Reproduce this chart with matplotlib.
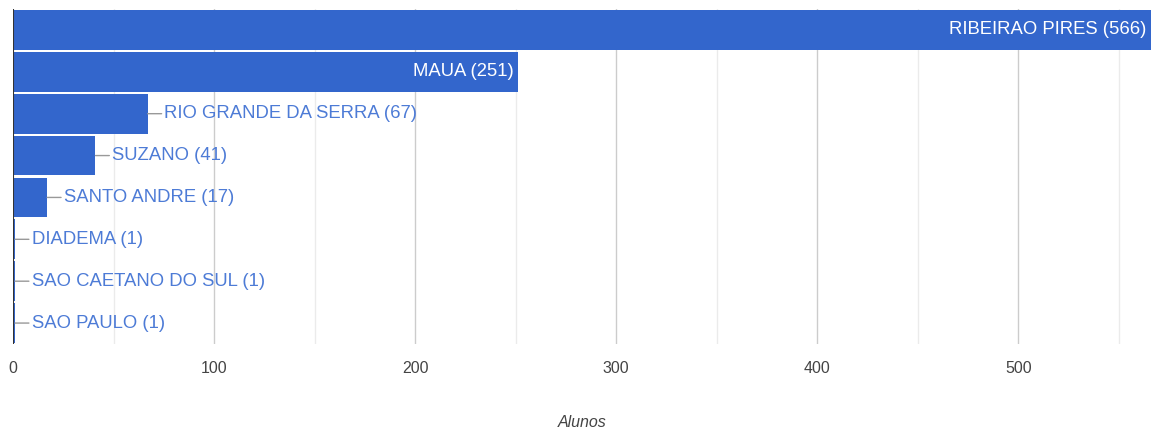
import matplotlib
matplotlib.use("Agg")
import matplotlib.pyplot as plt

cidades = ["RIBEIRAO PIRES", "MAUA", "RIO GRANDE DA SERRA", "SUZANO",
           "SANTO ANDRE", "DIADEMA", "SAO CAETANO DO SUL", "SAO PAULO"]
alunos = [566, 251, 67, 41, 17, 1, 1, 1]
ticks = [0, 100, 200, 300, 400, 500]

plt.rcParams['font.family'] = ['Liberation Sans', 'DejaVu Sans']

fig = plt.figure(figsize=(11.51, 4.30), dpi=100)
ax = fig.add_axes([13/1151, 86/430, 1 - 13/1151, 335/430])

pos = list(range(len(cidades)))
ax.barh(pos, alunos, height=0.95, color='#3366cc', zorder=3)
ax.set_ylim(len(cidades) - 0.5, -0.5)
ax.set_xlim(0, 566)

# grid lines: major every 100, lighter every 50
for v in range(50, 566, 50):
    c = '#cccccc' if v % 100 == 0 else '#ebebeb'
    ax.axvline(v, color=c, lw=1, zorder=1)
ax.axvline(0, color='#333333', lw=1.5, zorder=4)

for i, (nome, n) in enumerate(zip(cidades, alunos)):
    txt = f"{nome} ({n})"
    if n > 200:
        ax.annotate(txt, (n, i), xytext=(-3, 0), textcoords='offset points',
                    ha='right', va='center', color='white', fontsize=13.3, zorder=5)
    else:
        ax.annotate(txt, (n, i), xytext=(12, 0), textcoords='offset points',
                    ha='left', va='center', color='#4d7bd6', fontsize=13.3, zorder=5,
                    arrowprops=dict(arrowstyle='-', color='#999999', lw=1,
                                    shrinkA=0, shrinkB=0))

ax.set_xticks(ticks)
ax.tick_params(axis='x', length=0, labelsize=11.5, labelcolor='#444444', pad=12)
ax.set_yticks([])
for s in ax.spines.values():
    s.set_visible(False)

ax.set_xlabel("Alunos", fontsize=11.5, style='italic', color='#444444', labelpad=28)

fig.savefig("out.png", dpi=100)
